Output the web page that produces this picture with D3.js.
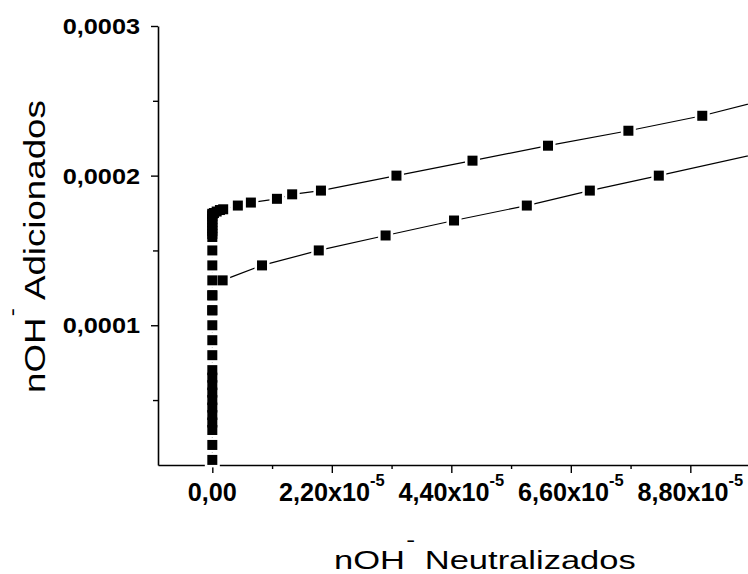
<!DOCTYPE html>
<html><head><meta charset="utf-8">
<script src="https://cdn.jsdelivr.net/npm/d3@7"></script>
<style>html,body{margin:0;padding:0;background:#fff;} svg{display:block;}</style>
</head><body>
<svg id="c" width="748" height="574"></svg>
<script>
// ---- data ----
// upper curve
const upperX = [0,0,0,0,0,0,0,0,0,0,0,0,0,0,0,0,0,0,0,0,0,0,0,0,0,0,0,0,0,
  0.03e-5,0.08e-5,0.14e-5,0.20e-5,0.47e-5,0.71e-5,1.19e-5,1.47e-5,2.00e-5,3.39e-5,4.79e-5,6.18e-5,7.66e-5,9.02e-5,10.1e-5];
const upperY = [1.0e-5,2.0e-5,3.0e-5,3.5e-5,4.0e-5,4.5e-5,5.0e-5,5.5e-5,6.0e-5,6.5e-5,7.0e-5,8.0e-5,9.0e-5,10.0e-5,11.0e-5,12.0e-5,13.0e-5,14.0e-5,15.0e-5,
  15.9e-5,16.1e-5,16.3e-5,16.5e-5,16.7e-5,16.9e-5,17.1e-5,17.3e-5,17.4e-5,17.45e-5,
  17.5e-5,17.6e-5,17.7e-5,17.75e-5,18.0e-5,18.2e-5,18.45e-5,18.75e-5,19.0e-5,20.0e-5,21.0e-5,22.0e-5,23.0e-5,24.0e-5,25.0e-5];
// lower curve
const lowerX = [0,0,0.19e-5,0.915e-5,1.96e-5,3.19e-5,4.45e-5,5.79e-5,6.95e-5,8.22e-5,10.7e-5];
const lowerY = [11e-5,12e-5,13e-5,14e-5,15e-5,16e-5,17e-5,18e-5,19e-5,20e-5,22e-5];

const xMajorTicks = [0, 2.2e-5, 4.4e-5, 6.6e-5, 8.8e-5];
const xTickMantissa = ["0,00","2,20","4,40","6,60","8,80"];
const xTickExponent = ["", "-5", "-5", "-5", "-5"];
const xMinorTicks = [1.1e-5, 3.3e-5, 5.5e-5, 7.7e-5, 9.9e-5];
const yMajorTicks = [1e-4, 2e-4, 3e-4];
const yTickLabels = ["0,0001","0,0002","0,0003"];
const yMinorTicks = [0.5e-4, 1.5e-4, 2.5e-4];
const xTitle = ["nOH", "-", " Neutralizados"];
const yTitle = ["nOH", "-", " Adicionados"];

// ---- layout ----
const FONT = "Arial, 'Liberation Sans', sans-serif";
const svg = d3.select("#c");
const x = d3.scaleLinear().domain([-1e-5, 1e-4]).range([158, 755.5]);
const y = d3.scaleLinear().domain([0.66e-5, 3e-4]).range([465, 26]);

// axes
const gy = svg.append("g").attr("transform", `translate(${x(-1e-5)},0)`);
gy.call(d3.axisLeft(y).tickValues(yMajorTicks).tickSize(7).tickSizeOuter(0).tickPadding(10)
  .tickFormat((d,i)=>yTickLabels[i]));
gy.append("g").call(d3.axisLeft(y).tickValues(yMinorTicks).tickSize(5).tickSizeOuter(0).tickFormat(""))
  .select(".domain").remove();
const gx = svg.append("g").attr("transform", `translate(0,${y(0.66e-5)})`);
gx.call(d3.axisBottom(x).tickValues(xMajorTicks).tickSize(8).tickSizeOuter(0).tickFormat(""));
gx.append("g").call(d3.axisBottom(x).tickValues(xMinorTicks).tickSize(4).tickSizeOuter(0).tickFormat(""))
  .select(".domain").remove();
svg.selectAll(".domain").attr("stroke", "#000").attr("stroke-width", 1.6);
svg.selectAll(".tick line").attr("stroke", "#000").attr("stroke-width", 1.4);

gy.selectAll(".tick text")
  .attr("font-family", FONT).attr("font-weight", "bold").attr("font-size", 22).attr("fill", "#000")
  .attr("x", 0).attr("dy", "0.35em")
  .attr("transform", "translate(-18,0) scale(1.15,1)");

// x tick labels with superscript exponent
const xl = gx.append("g").selectAll("text").data(xMajorTicks).join("text")
  .attr("font-family", FONT).attr("font-weight", "bold").attr("font-size", 26).attr("fill", "#000")
  .attr("text-anchor", "middle")
  .attr("transform", d => `translate(${x(d)},36) scale(0.97,1)`);
xl.each(function(d, i) {
  const t = d3.select(this);
  if (xTickExponent[i] === "") { t.text(xTickMantissa[i]); return; }
  t.append("tspan").text(xTickMantissa[i] + "x10");
  t.append("tspan").attr("font-size", 17).attr("dy", -15).text(xTickExponent[i]);
});

// data lines
const pts = (xs, ys) => xs.map((v, i) => [v, ys[i]]);
const upper = pts(upperX, upperY), lower = pts(lowerX, lowerY);
const line = d3.line().x(d => x(d[0])).y(d => y(d[1]));
const plot = svg.append("g");
[upper, lower].forEach(s => plot.append("path").attr("d", line(s))
  .attr("fill", "none").attr("stroke", "#000").attr("stroke-width", 1.2));
const all = upper.concat(lower);
plot.selectAll("rect.halo").data(all).join("rect").attr("class", "halo")
  .attr("x", d => x(d[0]) - 7.5).attr("y", d => y(d[1]) - 7.5)
  .attr("width", 15).attr("height", 15).attr("fill", "#fff");
plot.selectAll("rect.mk").data(all).join("rect").attr("class", "mk")
  .attr("x", d => x(d[0]) - 5).attr("y", d => y(d[1]) - 5)
  .attr("width", 10).attr("height", 10).attr("fill", "#000");

// titles (stretched to match reference widths)
function title(parts, fs, supFs, supDy, transform, target) {
  const g = svg.append("g").attr("transform", transform);
  const t = g.append("text").attr("font-family", FONT).attr("font-size", fs).attr("fill", "#000");
  t.append("tspan").text(parts[0]);
  t.append("tspan").attr("font-size", supFs).attr("dy", -supDy).attr("dx", 1).text(parts[1]);
  t.append("tspan").attr("dy", supDy).text(parts[2]);
  const w = t.node().getBBox().width;
  t.attr("transform", `scale(${target / w},1)`);
}
title(xTitle, 26, 20, 22, "translate(334,569)", 302);
title(yTitle, 30, 20, 26, "translate(45,393) rotate(-90)", 293);
</script>
</body></html>
